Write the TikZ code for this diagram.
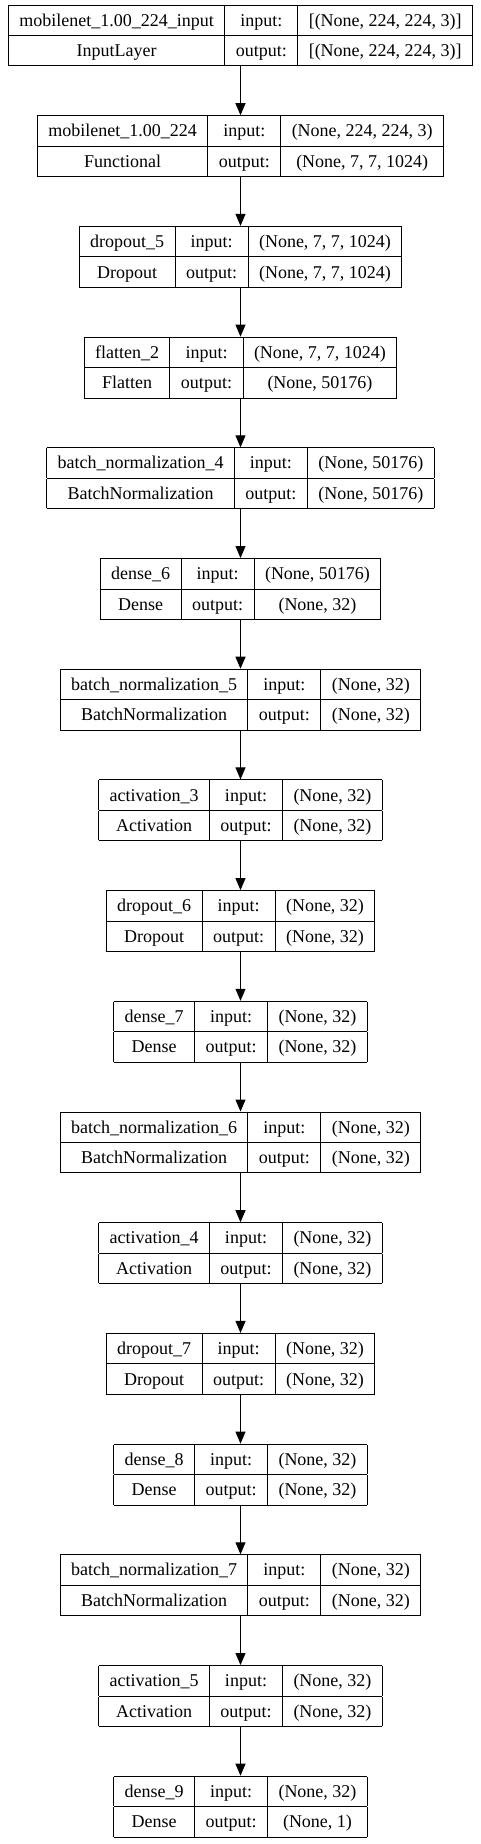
\documentclass[tikz,border=0pt]{standalone}
\usepackage{fontspec}
\setmainfont{Liberation Serif}
\usetikzlibrary{arrows.meta}
\setlength{\tabcolsep}{11pt}
\setlength{\arrayrulewidth}{1pt}
\renewcommand{\arraystretch}{1.34}

\begin{document}
\begin{tikzpicture}[>={Triangle[length=12pt, width=10pt]}, x=1pt, y=1pt, line width=1pt, node distance=110.7pt, every node/.style={inner sep=0pt, outer sep=0pt, font=\fontsize{18}{22}\selectfont}]
    \useasboundingbox (0,0) rectangle (481,-1844);

    % Layers
    \node (in) at (240.5,-35.5) {\begin{tabular}{|c|c|c|}\hline mobilenet\_1.00\_224\_input & input: & [(None, 224, 224, 3)]\\\hline InputLayer & output: & [(None, 224, 224, 3)]\\\hline\end{tabular}};
    \node (mnet) [below of=in] {\begin{tabular}{|c|c|c|}\hline mobilenet\_1.00\_224 & input: & (None, 224, 224, 3)\\\hline Functional & output: & (None, 7, 7, 1024)\\\hline\end{tabular}};
    \node (drop5) [below of=mnet] {\begin{tabular}{|c|c|c|}\hline dropout\_5 & input: & (None, 7, 7, 1024)\\\hline Dropout & output: & (None, 7, 7, 1024)\\\hline\end{tabular}};
    \node (flat2) [below of=drop5] {\begin{tabular}{|c|c|c|}\hline flatten\_2 & input: & (None, 7, 7, 1024)\\\hline Flatten & output: & (None, 50176)\\\hline\end{tabular}};
    \node (bn4) [below of=flat2] {\begin{tabular}{|c|c|c|}\hline batch\_normalization\_4 & input: & (None, 50176)\\\hline BatchNormalization & output: & (None, 50176)\\\hline\end{tabular}};
    \node (dense6) [below of=bn4] {\begin{tabular}{|c|c|c|}\hline dense\_6 & input: & (None, 50176)\\\hline Dense & output: & (None, 32)\\\hline\end{tabular}};
    \node (bn5) [below of=dense6] {\begin{tabular}{|c|c|c|}\hline batch\_normalization\_5 & input: & (None, 32)\\\hline BatchNormalization & output: & (None, 32)\\\hline\end{tabular}};
    \node (act3) [below of=bn5] {\begin{tabular}{|c|c|c|}\hline activation\_3 & input: & (None, 32)\\\hline Activation & output: & (None, 32)\\\hline\end{tabular}};
    \node (drop6) [below of=act3] {\begin{tabular}{|c|c|c|}\hline dropout\_6 & input: & (None, 32)\\\hline Dropout & output: & (None, 32)\\\hline\end{tabular}};
    \node (dense7) [below of=drop6] {\begin{tabular}{|c|c|c|}\hline dense\_7 & input: & (None, 32)\\\hline Dense & output: & (None, 32)\\\hline\end{tabular}};
    \node (bn6) [below of=dense7] {\begin{tabular}{|c|c|c|}\hline batch\_normalization\_6 & input: & (None, 32)\\\hline BatchNormalization & output: & (None, 32)\\\hline\end{tabular}};
    \node (act4) [below of=bn6] {\begin{tabular}{|c|c|c|}\hline activation\_4 & input: & (None, 32)\\\hline Activation & output: & (None, 32)\\\hline\end{tabular}};
    \node (drop7) [below of=act4] {\begin{tabular}{|c|c|c|}\hline dropout\_7 & input: & (None, 32)\\\hline Dropout & output: & (None, 32)\\\hline\end{tabular}};
    \node (dense8) [below of=drop7] {\begin{tabular}{|c|c|c|}\hline dense\_8 & input: & (None, 32)\\\hline Dense & output: & (None, 32)\\\hline\end{tabular}};
    \node (bn7) [below of=dense8] {\begin{tabular}{|c|c|c|}\hline batch\_normalization\_7 & input: & (None, 32)\\\hline BatchNormalization & output: & (None, 32)\\\hline\end{tabular}};
    \node (act5) [below of=bn7] {\begin{tabular}{|c|c|c|}\hline activation\_5 & input: & (None, 32)\\\hline Activation & output: & (None, 32)\\\hline\end{tabular}};
    \node (dense9) [below of=act5] {\begin{tabular}{|c|c|c|}\hline dense\_9 & input: & (None, 32)\\\hline Dense & output: & (None, 1)\\\hline\end{tabular}};

    % Arrows between layers
    \draw[->] (in) -- (mnet);
    \draw[->] (mnet) -- (drop5);
    \draw[->] (drop5) -- (flat2);
    \draw[->] (flat2) -- (bn4);
    \draw[->] (bn4) -- (dense6);
    \draw[->] (dense6) -- (bn5);
    \draw[->] (bn5) -- (act3);
    \draw[->] (act3) -- (drop6);
    \draw[->] (drop6) -- (dense7);
    \draw[->] (dense7) -- (bn6);
    \draw[->] (bn6) -- (act4);
    \draw[->] (act4) -- (drop7);
    \draw[->] (drop7) -- (dense8);
    \draw[->] (dense8) -- (bn7);
    \draw[->] (bn7) -- (act5);
    \draw[->] (act5) -- (dense9);

\end{tikzpicture}
\end{document}
